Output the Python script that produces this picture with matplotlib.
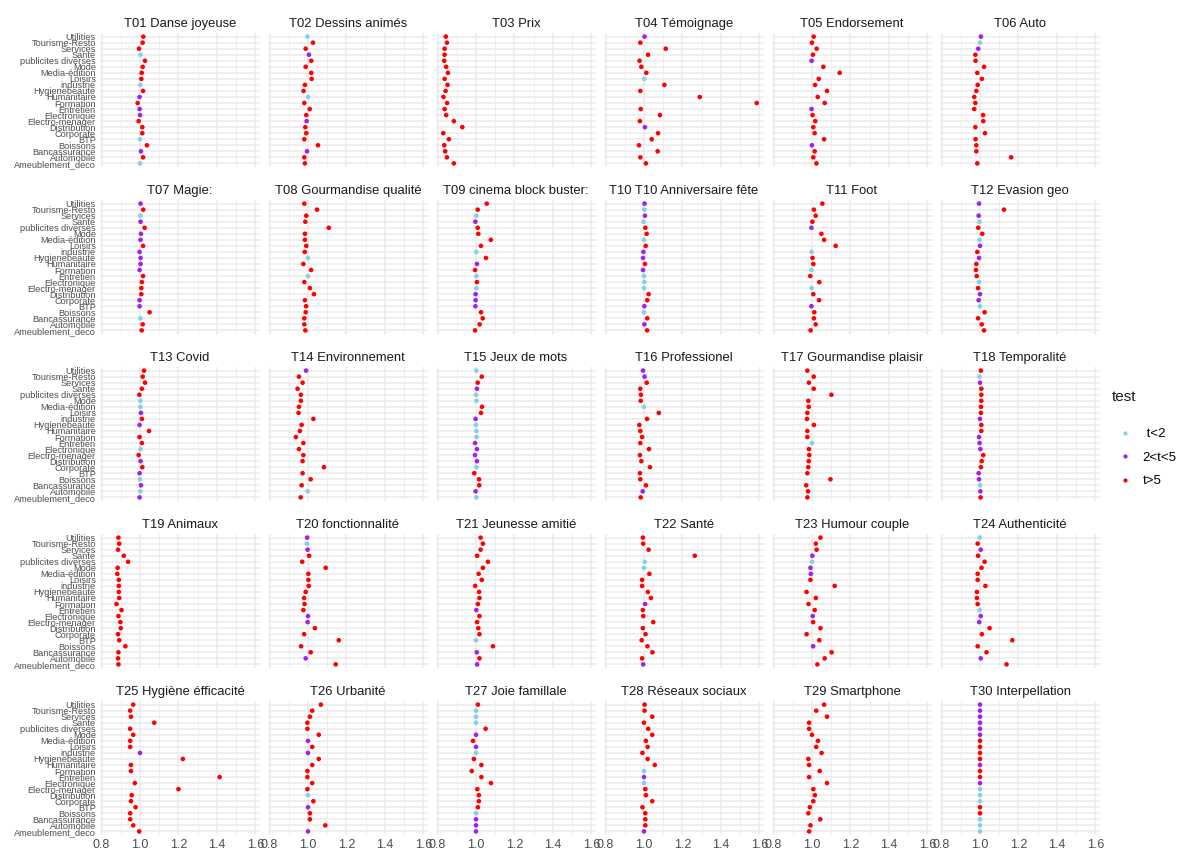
import numpy as np
import matplotlib
matplotlib.use('Agg')
import matplotlib.pyplot as plt
from matplotlib.lines import Line2D
from matplotlib.ticker import MultipleLocator

plt.rcParams['font.family'] = ['Liberation Sans', 'DejaVu Sans']

categories = ['Utilities', 'Tourisme-Resto', 'Services', 'Sante', 'publicites diverses', 'Mode',
              'Media-édition', 'Loisirs', 'industrie', 'Hygienebeaute', 'Humanitaire', 'Formation',
              'Entretien', 'Electronique', 'Electro-menager', 'Distribution', 'Corporate', 'BTP',
              'Boissons', 'Bancassurance', 'Automobile', 'Ameublement_deco']

themes = ['T01 Danse joyeuse', 'T02 Dessins animés', 'T03 Prix', 'T04 Témoignage', 'T05 Endorsement',
          'T06 Auto', 'T07 Magie:', 'T08 Gourmandise qualité', 'T09 cinema block buster:',
          'T10 T10 Anniversaire fête', 'T11 Foot', 'T12 Evasion geo', 'T13 Covid', 'T14 Environnement',
          'T15 Jeux de mots', 'T16 Professionel', 'T17 Gourmandise plaisir', 'T18 Temporalité',
          'T19 Animaux', 'T20 fonctionnalité', 'T21 Jeunesse amitié', 'T22 Santé', 'T23 Humour couple',
          'T24 Authenticité', 'T25 Hygiène éfficacité', 'T26 Urbanité', 'T27 Joie famillale',
          'T28 Réseaux sociaux', 'T29 Smartphone', 'T30 Interpellation']

# one row per theme, values in the order of categories (top to bottom)
values = [
    [1.017, 1.014, 0.995, 1.003, 1.026, 1.014, 1.009, 1.007, 1.002, 1.016, 0.998, 0.988, 0.998, 1.000, 0.993, 1.012, 1.012, 1.000, 1.036, 1.005, 1.016, 1.000],
    [0.997, 1.026, 0.988, 1.005, 1.017, 0.988, 1.017, 1.019, 0.984, 0.977, 1.000, 0.981, 1.009, 0.991, 0.993, 0.986, 0.991, 0.981, 1.052, 0.995, 0.981, 0.984],
    [0.843, 0.849, 0.837, 0.837, 0.835, 0.845, 0.854, 0.837, 0.852, 0.842, 0.831, 0.850, 0.837, 0.845, 0.885, 0.929, 0.830, 0.859, 0.835, 0.840, 0.849, 0.885],
    [1.003, 0.981, 1.113, 1.021, 0.977, 0.986, 1.012, 1.002, 1.106, 0.981, 1.290, 1.586, 0.983, 1.083, 0.979, 1.005, 1.073, 1.040, 0.974, 1.071, 0.981, 1.010],
    [1.009, 1.000, 1.024, 1.005, 0.998, 1.059, 1.144, 1.035, 1.016, 1.078, 1.030, 1.066, 0.998, 1.003, 1.017, 1.007, 1.014, 1.063, 1.000, 1.014, 1.007, 1.023],
    [1.005, 1.000, 0.991, 0.976, 0.977, 1.021, 0.986, 1.010, 0.988, 0.981, 0.970, 0.976, 0.970, 1.016, 1.017, 0.976, 1.026, 0.977, 0.981, 0.981, 1.162, 0.986],
    [1.003, 1.017, 1.002, 1.003, 1.024, 1.005, 1.003, 1.016, 0.998, 1.003, 1.003, 0.998, 1.016, 1.010, 1.007, 1.007, 0.998, 0.998, 1.050, 1.002, 1.014, 1.009],
    [0.981, 1.047, 0.991, 0.986, 1.108, 0.984, 0.984, 0.991, 0.983, 1.000, 0.976, 1.016, 1.000, 0.981, 1.010, 1.031, 0.984, 0.990, 0.988, 0.981, 0.981, 0.986],
    [1.056, 1.009, 1.002, 0.997, 1.009, 1.012, 1.077, 1.026, 1.002, 1.052, 1.005, 0.995, 1.002, 1.005, 1.002, 0.998, 0.998, 0.997, 1.026, 1.035, 1.019, 0.995],
    [1.003, 1.002, 1.005, 0.998, 1.007, 1.014, 1.000, 1.009, 0.997, 0.995, 1.005, 0.995, 1.000, 1.002, 1.000, 1.024, 1.017, 1.002, 1.000, 1.017, 1.002, 1.016],
    [1.054, 1.010, 1.019, 1.002, 0.997, 1.049, 1.063, 1.123, 0.998, 1.003, 1.007, 0.997, 0.991, 1.038, 0.998, 1.007, 1.037, 0.997, 1.012, 1.010, 1.019, 0.993],
    [0.995, 1.125, 0.993, 0.997, 0.991, 1.012, 0.998, 1.000, 0.986, 0.995, 0.981, 0.979, 0.983, 0.995, 0.990, 1.000, 0.993, 1.000, 1.024, 0.990, 1.009, 1.021],
    [1.021, 1.014, 1.026, 1.010, 0.997, 1.002, 1.002, 1.005, 1.010, 0.998, 1.047, 0.998, 1.010, 1.003, 0.993, 1.003, 1.012, 0.998, 1.000, 1.005, 1.002, 0.998],
    [0.990, 0.953, 0.972, 0.946, 0.963, 0.963, 0.953, 0.951, 1.028, 0.967, 0.958, 0.937, 0.976, 0.953, 0.976, 0.972, 1.083, 0.972, 1.014, 0.967, 0.998, 0.962],
    [1.002, 1.030, 1.009, 1.005, 1.000, 1.002, 1.031, 1.026, 0.998, 1.000, 1.002, 1.003, 0.995, 1.005, 0.995, 1.005, 1.002, 0.991, 1.016, 1.017, 0.998, 1.002],
    [0.995, 1.003, 1.014, 0.981, 0.984, 0.983, 1.000, 1.077, 1.016, 0.976, 0.981, 0.990, 0.981, 1.026, 0.979, 0.986, 1.031, 0.979, 0.981, 1.010, 0.993, 0.983],
    [0.976, 1.009, 0.984, 1.009, 1.101, 0.981, 0.983, 0.976, 0.974, 1.010, 0.976, 0.976, 1.000, 0.984, 0.986, 0.983, 0.981, 0.976, 1.096, 0.970, 0.979, 0.976],
    [1.005, 0.997, 1.000, 1.007, 1.007, 1.007, 1.005, 1.005, 1.000, 1.007, 1.007, 0.995, 0.998, 1.002, 1.017, 1.009, 1.005, 0.993, 0.995, 1.000, 1.002, 1.003],
    [0.888, 0.892, 0.886, 0.916, 0.938, 0.884, 0.882, 0.890, 0.890, 0.890, 0.892, 0.878, 0.904, 0.888, 0.898, 0.900, 0.886, 0.892, 0.924, 0.888, 0.886, 0.888],
    [0.996, 0.994, 0.998, 1.006, 0.970, 1.092, 1.002, 1.002, 1.004, 0.988, 0.980, 0.982, 0.976, 1.000, 0.998, 1.036, 0.980, 1.160, 0.964, 1.014, 0.988, 1.144],
    [1.024, 1.036, 1.024, 1.006, 1.062, 1.036, 1.014, 1.030, 0.996, 1.016, 1.018, 1.010, 1.002, 1.018, 1.006, 1.012, 1.018, 1.000, 1.088, 1.004, 1.018, 1.006],
    [0.994, 0.996, 1.024, 1.264, 1.004, 1.000, 1.028, 0.990, 0.990, 1.020, 1.036, 1.006, 0.994, 0.996, 1.048, 0.994, 1.008, 0.988, 1.018, 1.044, 0.990, 0.996],
    [1.044, 1.020, 1.024, 1.002, 1.000, 0.992, 0.994, 0.992, 1.118, 0.972, 1.020, 0.982, 1.014, 1.004, 1.006, 1.044, 0.972, 1.038, 1.006, 1.102, 1.066, 1.028],
    [0.998, 0.988, 1.004, 0.990, 1.024, 1.008, 0.988, 0.988, 1.028, 0.984, 0.984, 0.988, 0.998, 1.004, 0.996, 1.050, 1.010, 1.168, 0.988, 1.034, 1.004, 1.138],
    [0.965, 0.949, 0.953, 1.074, 0.949, 0.965, 0.949, 0.949, 1.000, 1.223, 0.953, 0.953, 1.414, 0.973, 1.200, 0.957, 0.953, 0.977, 0.949, 0.949, 0.965, 0.996],
    [1.067, 1.022, 1.010, 0.997, 0.997, 1.056, 1.000, 1.022, 1.000, 1.056, 1.022, 0.997, 0.997, 1.022, 0.997, 1.000, 1.028, 1.000, 1.010, 1.010, 1.090, 1.000],
    [1.010, 1.000, 1.000, 1.000, 1.050, 1.000, 0.985, 1.000, 1.000, 0.989, 1.028, 0.978, 1.028, 1.078, 1.007, 1.015, 1.015, 1.010, 1.000, 1.000, 1.000, 1.000],
    [1.003, 1.003, 1.043, 1.000, 1.022, 1.043, 1.010, 1.019, 0.992, 1.019, 1.056, 1.000, 1.000, 1.000, 1.007, 1.010, 1.043, 0.992, 1.007, 1.007, 1.007, 1.000],
    [1.063, 1.022, 1.078, 0.985, 0.985, 1.000, 1.031, 1.022, 1.050, 0.981, 0.985, 1.040, 0.985, 1.078, 1.007, 1.015, 1.007, 0.989, 0.981, 1.043, 0.992, 0.985],
    [1.000, 1.000, 1.000, 1.000, 1.000, 1.000, 1.000, 1.000, 1.000, 1.000, 1.000, 1.000, 1.000, 1.000, 1.000, 1.000, 1.000, 1.000, 1.000, 1.000, 1.000, 1.000],
]

# test class per point: b = t<2, p = 2<t<5, r = t>5
tests = [
    'rrrbrrrrbrprpprrrbrprb', 'brrprrrrrrbrrrprrrrprr', 'rrrrrrrrrrrrrrrrrrrrrr',
    'prrrrrrbrrrrrrrprrrrrr', 'rrrrprrrrrrrprrrrrprrr', 'pbprrrrrrrrrrrrrrrrrrr',
    'prbprpprpppprrrrpprbrr', 'rrrrrrrrrbrrbrrrrrrrrr', 'rrbprrrrbrprbrbppprrrr',
    'pbpbrrbrpprpbbbrrpbrpr', 'rrrrprrrbrrbrrbrrprrrr', 'prpbrrbprprrrbrppbrrrr',
    'rrrrrbbprprrrbrprpbpbp', 'prrrrrrrrrrrrrrrrrrrbr', 'brrpbbrrpbbbppppbrrrpb',
    'pprrrrbrrrrrrrrrrrrrpr', 'rrrrrrrrrrrrbrrrrrrrrr', 'rbprrrrrprrppprrrppbpr',
    'rrrrrrrrrrrrrrrrrrrrrr', 'pbprrrrrrrrrrpprrrrrpr', 'rrrrrrrrrrrrprrrrbrprp',
    'rrrrbbrrrrrprrrrrrrrrp', 'rrrpbpprrrrrrprrrrprrr', 'brprrrrrrrrrbpprrrrrpr',
    'rrrrrrrrprrrrrrrrrrrrr', 'rrrrrrprprrrrrrbrprrrp', 'rbbbrprpbrrrrrrrrrbppp',
    'rrrrrrrrrrrbpbrrrrrrrp', 'rrrrrrrrrrrrrrrrrrrrrr', 'pppppprrrrprrpbbbrrbbb',
]

test_labels = {'b': ' t<2', 'p': '2<t<5', 'r': 't>5'}
test_colors = {'b': '#87CEEB', 'p': '#A020F0', 'r': '#FF0000'}

W, H = 1201, 852
fig = plt.figure(figsize=(W / 100, H / 100), dpi=100)

allv = np.concatenate([np.array(v) for v in values])
lo, hi = allv.min(), allv.max()
pad = 0.05 * (hi - lo)
n = len(categories)
ypos = np.arange(n)[::-1]

left, top = 100, 33
pw, ph = 160, 134
dx, dy = 168, 167
grid = '#EBEBEB'
for k, theme in enumerate(themes):
    r, c = divmod(k, 6)
    x0 = left + c * dx
    y0 = top + r * dy
    ax = fig.add_axes([x0 / W, 1 - (y0 + ph) / H, pw / W, ph / H])
    cols = [test_colors[t] for t in tests[k]]
    ax.scatter(values[k], ypos, c=cols, s=11, linewidths=0, zorder=3)
    ax.set_xlim(lo - pad, hi + pad)
    ax.set_ylim(-0.6, n - 0.4)
    ax.xaxis.set_major_locator(MultipleLocator(0.2))
    ax.xaxis.set_minor_locator(MultipleLocator(0.1))
    ax.set_yticks(ypos)
    ax.set_yticklabels(categories)
    ax.grid(True, which='major', color=grid, lw=1.1)
    ax.grid(True, which='minor', axis='x', color=grid, lw=0.6)
    ax.set_axisbelow(True)
    for s in ax.spines.values():
        s.set_visible(False)
    ax.tick_params(which='both', length=0, colors='#4D4D4D')
    ax.tick_params(axis='y', labelsize=6.6, pad=3)
    ax.tick_params(axis='x', labelsize=9, pad=3)
    if c > 0:
        ax.tick_params(axis='y', labelleft=False)
    if r < 4:
        ax.tick_params(axis='x', labelbottom=False)
    ax.set_title(theme, fontsize=9.4, color='#1A1A1A', pad=4)

fig.text(1112 / W, 1 - 397 / H, 'test', fontsize=11, va='center', color='#1A1A1A')
handles = [Line2D([], [], ls='', marker='o', ms=3, mec='none', mfc=test_colors[t], label=test_labels[t])
           for t in 'bpr']
fig.legend(handles=handles, loc='upper left', bbox_to_anchor=(1117 / W, 1 - 428 / H),
           frameon=False, fontsize=9.5, labelspacing=0.85, handletextpad=0.75,
           handlelength=1.2, borderaxespad=0, borderpad=0)

fig.savefig('out.png', dpi=100)
